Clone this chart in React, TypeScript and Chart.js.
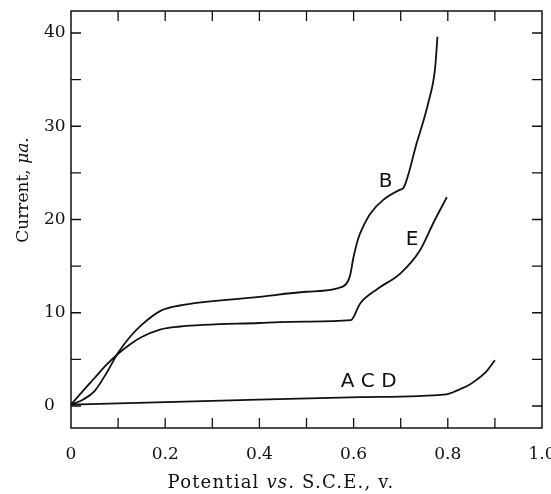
import React, { useEffect, useRef } from "react";
import { Chart, registerables } from "chart.js";
Chart.register(...registerables);

// Potential (v vs. S.C.E.) and current (µa.)
const potentialB = [0, 0.026, 0.05, 0.075, 0.1, 0.125, 0.15, 0.19, 0.228, 0.4, 0.5, 0.577, 0.592, 0.6, 0.61, 0.62, 0.635, 0.663, 0.699, 0.706, 0.734, 0.759, 0.773, 0.778];
const currentB = [0.15, 0.7, 1.6, 3.5, 5.7, 7.4, 8.7, 10.2, 10.75, 11.7, 12.25, 12.8, 13.9, 16.0, 18.0, 19.2, 20.6, 22.1, 23.2, 23.4, 28.2, 32.6, 36.2, 39.6];

const potentialE = [0, 0.025, 0.05, 0.075, 0.1, 0.125, 0.15, 0.189, 0.228, 0.4, 0.5, 0.594, 0.614, 0.652, 0.699, 0.741, 0.769, 0.798];
const currentE = [0.15, 1.6, 3.0, 4.4, 5.6, 6.6, 7.4, 8.2, 8.5, 8.9, 9.05, 9.2, 11.0, 12.6, 14.2, 16.7, 19.6, 22.4];

const potentialACD = [0, 0.3, 0.614, 0.797, 0.81, 0.826, 0.845, 0.861, 0.88, 0.9];
const currentACD = [0.15, 0.55, 0.95, 1.25, 1.45, 1.8, 2.25, 2.8, 3.6, 4.9];

const curveNames = ["B", "E", "A C D"];
const labelPotential = [0.668, 0.724, 0.632];
const labelCurrent = [24.0, 17.8, 2.6];

const xTickValues = [0, 0.2, 0.4, 0.6, 0.8, 1.0];
const xTickLabels = ["0", "0.2", "0.4", "0.6", "0.8", "1.0"];
const yTickValues = [0, 10, 20, 30, 40];
const yTickLabels = ["0", "10", "20", "30", "40"];
const xMinorTicks = [0.1, 0.2, 0.3, 0.4, 0.5, 0.6, 0.7, 0.8, 0.9];
const yMinorTicks = [0, 5, 10, 15, 20, 25, 30, 35, 40];

const INK = "#111";
const SERIF = "'DejaVu Serif', serif";

function pts(xs: number[], ys: number[]) {
  return xs.map((x, i) => ({ x, y: ys[i] }));
}

const framePlugin = {
  id: "frameTicks",
  afterDraw(chart: any) {
    const { ctx, chartArea: a, scales } = chart;
    const xs = scales.x;
    const ys = scales.y;
    ctx.save();
    ctx.strokeStyle = INK;
    ctx.lineWidth = 1.5;
    ctx.strokeRect(a.left, a.top, a.right - a.left, a.bottom - a.top);
    ctx.lineWidth = 1.3;
    const L = 10;
    ctx.beginPath();
    xMinorTicks.forEach((v) => {
      const p = xs.getPixelForValue(v);
      ctx.moveTo(p, a.bottom);
      ctx.lineTo(p, a.bottom - L);
      ctx.moveTo(p, a.top);
      ctx.lineTo(p, a.top + L);
    });
    yMinorTicks.forEach((v) => {
      const p = ys.getPixelForValue(v);
      ctx.moveTo(a.left, p);
      ctx.lineTo(a.left + L, p);
      ctx.moveTo(a.right, p);
      ctx.lineTo(a.right - L, p);
    });
    ctx.stroke();

    // curve labels
    ctx.fillStyle = INK;
    ctx.font = "20px 'DejaVu Sans', sans-serif";
    ctx.textAlign = "center";
    ctx.textBaseline = "middle";
    curveNames.forEach((n, i) => {
      ctx.fillText(n, xs.getPixelForValue(labelPotential[i]), ys.getPixelForValue(labelCurrent[i]));
    });

    // x title with italic part
    const xParts: [string, boolean][] = [["Potential ", false], ["vs", true], [". S.C.E., v.", false]];
    const fontN = `18px ${SERIF}`;
    const fontI = `italic 18px ${SERIF}`;
    ctx.letterSpacing = "1.2px";
    let total = 0;
    xParts.forEach(([t, it]) => {
      ctx.font = it ? fontI : fontN;
      total += ctx.measureText(t).width;
    });
    ctx.textAlign = "left";
    ctx.textBaseline = "alphabetic";
    let x = 281 - total / 2;
    xParts.forEach(([t, it]) => {
      ctx.font = it ? fontI : fontN;
      ctx.fillText(t, x, 488);
      x += ctx.measureText(t).width;
    });
    ctx.letterSpacing = "0px";

    // y title
    const fontN2 = `17px ${SERIF}`;
    const fontI2 = `italic 17px ${SERIF}`;
    const yParts: [string, boolean][] = [["Current, ", false], ["\u03bca.", true]];
    total = 0;
    yParts.forEach(([t, it]) => {
      ctx.font = it ? fontI2 : fontN2;
      total += ctx.measureText(t).width;
    });
    ctx.translate(28, 190);
    ctx.rotate(-Math.PI / 2);
    let yx = -total / 2;
    yParts.forEach(([t, it]) => {
      ctx.font = it ? fontI2 : fontN2;
      ctx.fillText(t, yx, 0);
      yx += ctx.measureText(t).width;
    });
    ctx.restore();
  },
};

export default function App() {
  const ref = useRef<HTMLCanvasElement>(null);
  useEffect(() => {
    if (!ref.current) return;
    const line = (data: any[]) => ({
      data,
      borderColor: INK,
      borderWidth: 1.8,
      pointRadius: 0,
      fill: false,
      cubicInterpolationMode: "monotone" as const,
    });
    const chart = new Chart(ref.current, {
      type: "line",
      data: {
        datasets: [
          line(pts(potentialB, currentB)),
          line(pts(potentialE, currentE)),
          line(pts(potentialACD, currentACD)),
        ],
      },
      options: {
        animation: false,
        responsive: false,
        layout: { padding: { left: 44, top: 11, right: 9, bottom: 0 } },
        plugins: { legend: { display: false }, tooltip: { enabled: false } },
        scales: {
          x: {
            type: "linear",
            min: 0,
            max: 1.0,
            grid: { display: false, drawTicks: false },
            border: { display: false },
            afterBuildTicks: (s: any) => {
              s.ticks = xTickValues.map((v) => ({ value: v }));
            },
            afterFit: (s: any) => {
              s.height = 66;
              s.paddingLeft = 0;
              s.paddingRight = 0;
            },
            ticks: {
              padding: 16,
              maxRotation: 0,
              color: INK,
              font: { family: SERIF, size: 17 },
              callback: (v: any) => {
                const i = xTickValues.findIndex((t) => Math.abs(t - Number(v)) < 1e-9);
                return i >= 0 ? xTickLabels[i] : "";
              },
            },
          },
          y: {
            type: "linear",
            min: -2.36,
            max: 42.36,
            grid: { display: false, drawTicks: false },
            border: { display: false },
            afterBuildTicks: (s: any) => {
              s.ticks = yTickValues.map((v) => ({ value: v }));
            },
            afterFit: (s: any) => {
              s.width = 27;
              s.paddingTop = 0;
              s.paddingBottom = 0;
            },
            ticks: {
              crossAlign: "far",
              padding: 0,
              color: INK,
              font: { family: SERIF, size: 17 },
              callback: (v: any) => {
                const i = yTickValues.findIndex((t) => Math.abs(t - Number(v)) < 1e-9);
                return i >= 0 ? yTickLabels[i] : "";
              },
            },
          },
        },
      },
      plugins: [framePlugin],
    });
    return () => chart.destroy();
  }, []);
  return (
    <div style={{ position: "absolute", left: 0, top: 0, width: 551, height: 494, background: "#fff" }}>
      <canvas ref={ref} width={551} height={494} />
    </div>
  );
}
